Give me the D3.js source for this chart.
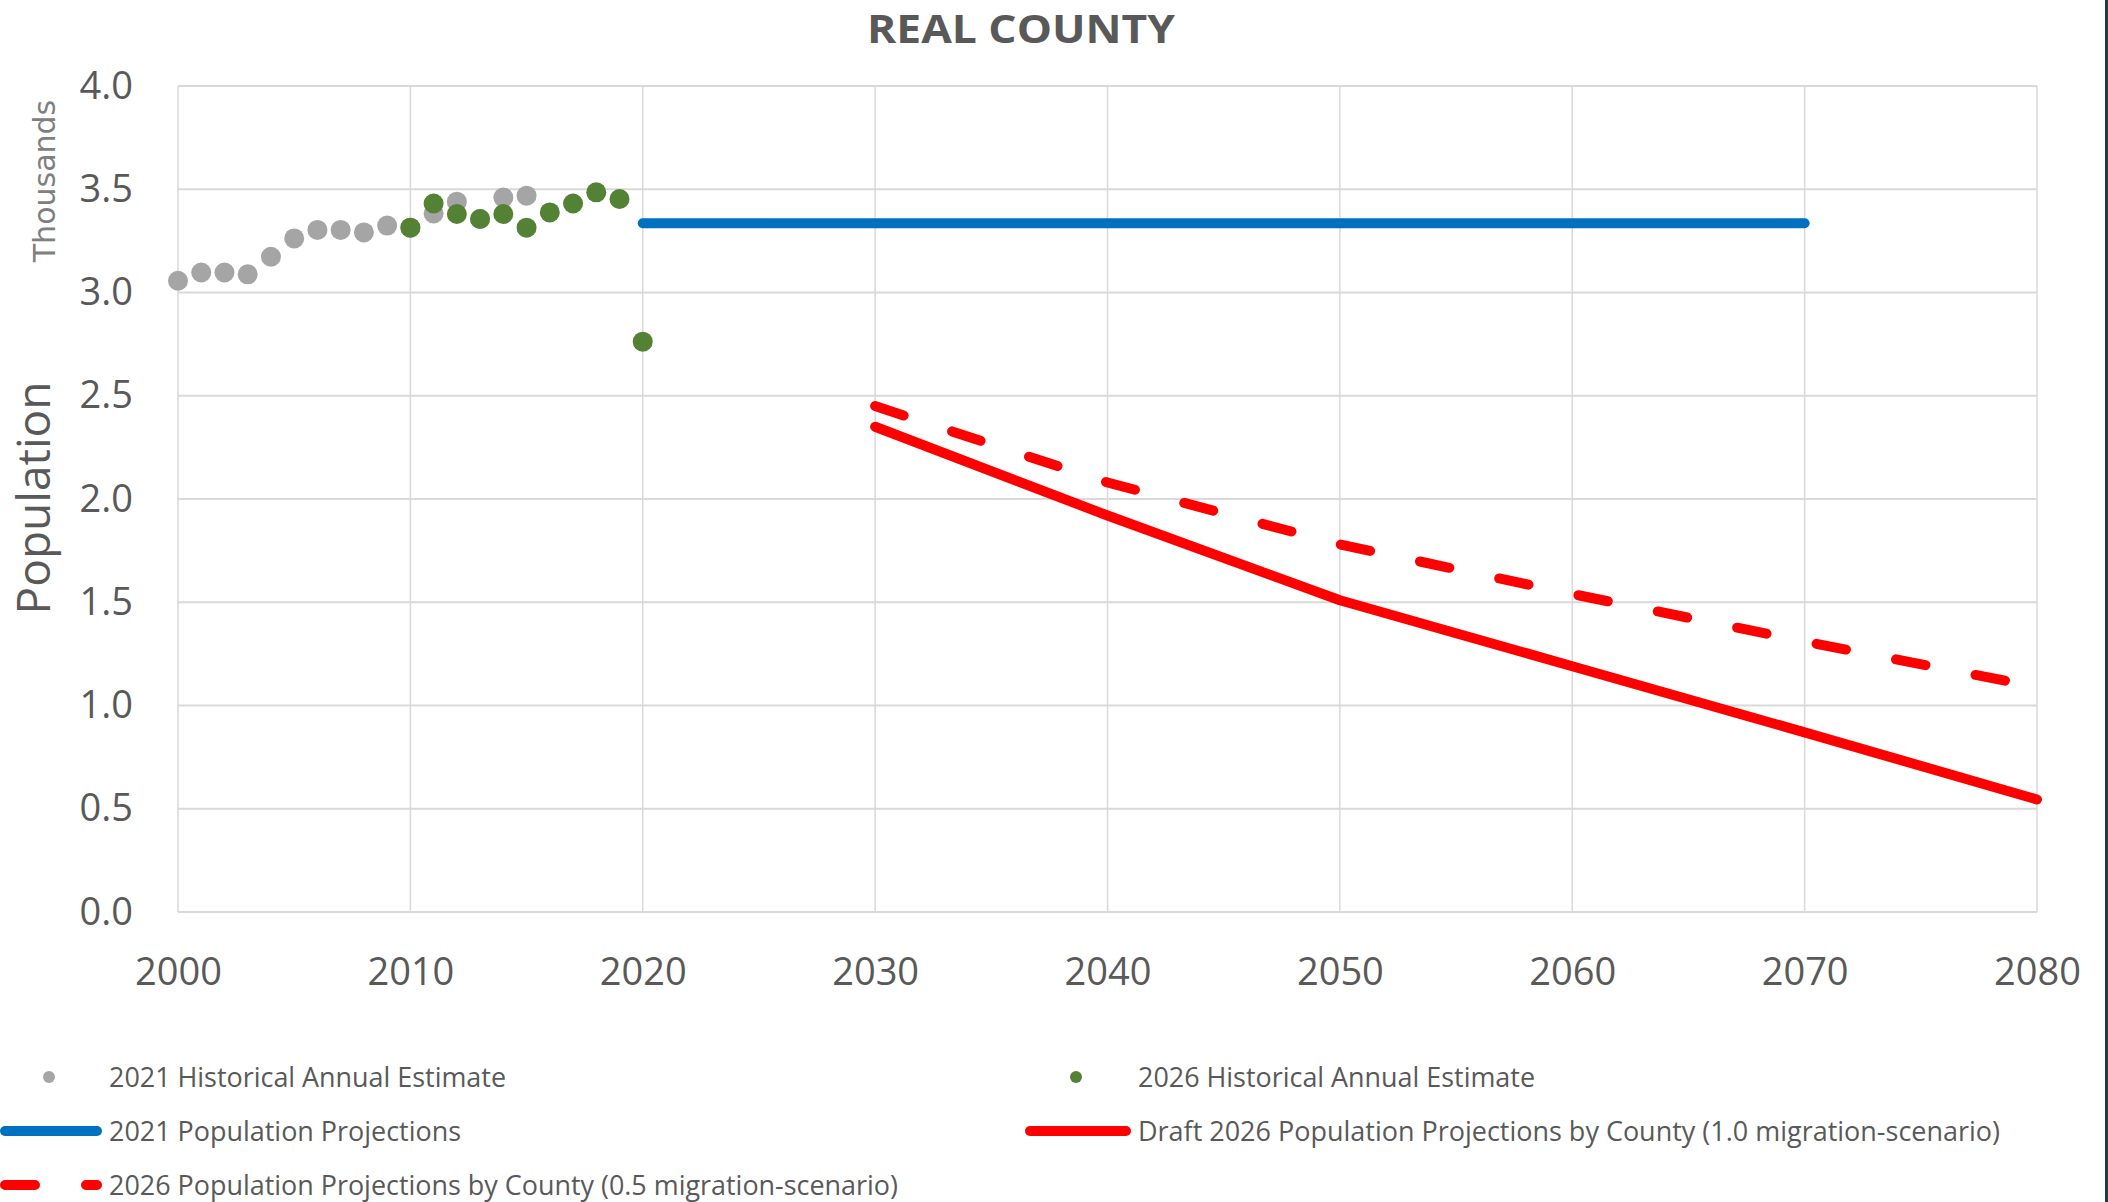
<!DOCTYPE html>
<html>
<head>
<meta charset="utf-8">
<script src="https://cdn.jsdelivr.net/npm/d3@7"></script>
<style>
  html, body { margin: 0; padding: 0; background: #fff; }
  svg { display: block; }
</style>
</head>
<body>
<svg id="chart" width="2108" height="1202"></svg>
<script>
// ---- Data (population in thousands) ----
const title = "REAL COUNTY";
const xTicks = [2000, 2010, 2020, 2030, 2040, 2050, 2060, 2070, 2080];
const yTicks = [0, 0.5, 1.0, 1.5, 2.0, 2.5, 3.0, 3.5, 4.0];

const hist2021Years  = [2000, 2001, 2002, 2003, 2004, 2005, 2006, 2007, 2008, 2009, 2010, 2011, 2012, 2013, 2014, 2015];
const hist2021Values = [3.057, 3.097, 3.097, 3.088, 3.173, 3.262, 3.303, 3.303, 3.291, 3.324, 3.314, 3.383, 3.440, 3.356, 3.460, 3.469];

const hist2026Years  = [2010, 2011, 2012, 2013, 2014, 2015, 2016, 2017, 2018, 2019, 2020];
const hist2026Values = [3.314, 3.431, 3.380, 3.356, 3.380, 3.314, 3.388, 3.431, 3.485, 3.453, 2.762];

const proj2021Years  = [2020, 2030, 2040, 2050, 2060, 2070];
const proj2021Values = [3.335, 3.335, 3.335, 3.335, 3.335, 3.335];

const projYears      = [2030, 2040, 2050, 2060, 2070, 2080];
const proj10Values   = [2.35, 1.92, 1.51, 1.19, 0.87, 0.545];
const proj05Values   = [2.45, 2.08, 1.78, 1.54, 1.31, 1.09];

const legendLabels = [
  "2021 Historical Annual Estimate",
  "2026 Historical Annual Estimate",
  "2021 Population Projections",
  "Draft 2026 Population Projections by County (1.0 migration-scenario)",
  "2026 Population Projections by County (0.5 migration-scenario)"
];

// ---- Styles ----
const C = {
  gray: "#A5A5A5", green: "#548235", blue: "#0070C0", red: "#FF0000",
  grid: "#D9D9D9", text: "#595959", thousands: "#7F7F7F"
};
const FONT = "'Open Sans', 'Noto Sans', sans-serif";

const svg = d3.select("#chart");
const x = d3.scaleLinear().domain([2000, 2080]).range([178, 2037]);
const y = d3.scaleLinear().domain([0, 4]).range([912, 86]);

// gridlines
const grid = svg.append("g");
grid.selectAll("line.v").data(xTicks).join("line")
  .attr("x1", d => x(d)).attr("x2", d => x(d))
  .attr("y1", y(4)).attr("y2", y(0))
  .attr("stroke", C.grid).attr("stroke-width", 1.5);
grid.selectAll("line.h").data(yTicks).join("line")
  .attr("x1", x(2000)).attr("x2", x(2080))
  .attr("y1", d => y(d)).attr("y2", d => y(d))
  .attr("stroke", C.grid).attr("stroke-width", 2.2);

// axes
const xAxis = svg.append("g").attr("transform", `translate(0,${y(0)})`)
  .call(d3.axisBottom(x).tickValues(xTicks).tickFormat(d3.format("d")).tickSize(0).tickPadding(46));
xAxis.select(".domain").remove();
xAxis.selectAll("text").attr("font-family", FONT).attr("font-size", 38).attr("fill", C.text);

const yAxis = svg.append("g").attr("transform", `translate(${x(2000)},0)`)
  .call(d3.axisLeft(y).tickValues(yTicks).tickFormat(d3.format(".1f")).tickSize(0).tickPadding(45));
yAxis.select(".domain").remove();
yAxis.selectAll("text").attr("font-family", FONT).attr("font-size", 38).attr("fill", C.text);

// title
svg.append("text").attr("x", 1021).attr("y", 43).attr("text-anchor", "middle")
  .attr("font-family", FONT).attr("font-weight", "bold").attr("font-size", 40)
  .attr("textLength", 308).attr("lengthAdjust", "spacingAndGlyphs")
  .attr("fill", C.text).text(title);

// axis titles
svg.append("text").attr("transform", "translate(50,498) rotate(-90)")
  .attr("text-anchor", "middle").attr("font-family", FONT).attr("font-size", 46)
  .attr("fill", C.text).text("Population");
svg.append("text").attr("transform", "translate(55,181) rotate(-90)")
  .attr("text-anchor", "middle").attr("font-family", "'DejaVu Sans', sans-serif").attr("font-size", 30)
  .attr("fill", C.thousands).text("Thousands");

// lines
const line = d3.line().x(d => x(d[0])).y(d => y(d[1]));
const zip = (a, b) => a.map((v, i) => [v, b[i]]);

svg.append("path").datum(zip(proj2021Years, proj2021Values)).attr("d", line)
  .attr("fill", "none").attr("stroke", C.blue).attr("stroke-width", 10)
  .attr("stroke-linecap", "round").attr("stroke-linejoin", "round");
svg.append("path").datum(zip(projYears, proj10Values)).attr("d", line)
  .attr("fill", "none").attr("stroke", C.red).attr("stroke-width", 10)
  .attr("stroke-linecap", "round").attr("stroke-linejoin", "round");
svg.append("path").datum(zip(projYears, proj05Values)).attr("d", line)
  .attr("fill", "none").attr("stroke", C.red).attr("stroke-width", 10)
  .attr("stroke-dasharray", "30 51")
  .attr("stroke-linecap", "round").attr("stroke-linejoin", "round");

// points
svg.append("g").selectAll("circle").data(zip(hist2021Years, hist2021Values)).join("circle")
  .attr("cx", d => x(d[0])).attr("cy", d => y(d[1])).attr("r", 10).attr("fill", C.gray);
svg.append("g").selectAll("circle").data(zip(hist2026Years, hist2026Values)).join("circle")
  .attr("cx", d => x(d[0])).attr("cy", d => y(d[1])).attr("r", 10).attr("fill", C.green);

// legend
const lg = svg.append("g").attr("font-family", FONT).attr("font-size", 28).attr("fill", C.text);
const legendItems = [
  { label: legendLabels[0], type: "dot", color: C.gray, mx: 49, tx: 109, by: 1087, w: 397 },
  { label: legendLabels[1], type: "dot", color: C.green, mx: 1076, tx: 1138, by: 1087, w: 397 },
  { label: legendLabels[2], type: "line", color: C.blue, mx: 5, mx2: 97, tx: 109, by: 1141, w: 352 },
  { label: legendLabels[3], type: "line", color: C.red, mx: 1030, mx2: 1126, tx: 1138, by: 1141, w: 862 },
  { label: legendLabels[4], type: "dash", color: C.red, mx: 5, mx2: 97, tx: 109, by: 1195, w: 789 }
];
legendItems.forEach(it => {
  const cy = it.by - 10;
  if (it.type === "dot") {
    lg.append("circle").attr("cx", it.mx).attr("cy", cy).attr("r", 6).attr("fill", it.color);
  } else {
    const p = lg.append("line").attr("x1", it.mx).attr("x2", it.mx2).attr("y1", cy).attr("y2", cy)
      .attr("stroke", it.color).attr("stroke-width", 10).attr("stroke-linecap", "round");
    if (it.type === "dash") p.attr("stroke-dasharray", "30 51");
  }
  lg.append("text").attr("x", it.tx).attr("y", it.by)
    .attr("textLength", it.w).attr("lengthAdjust", "spacingAndGlyphs").text(it.label);
});

// screenshot edge
svg.append("rect").attr("x", 2105).attr("y", 0).attr("width", 3).attr("height", 1202).attr("fill", "#1d3c45");
</script>
</body>
</html>
